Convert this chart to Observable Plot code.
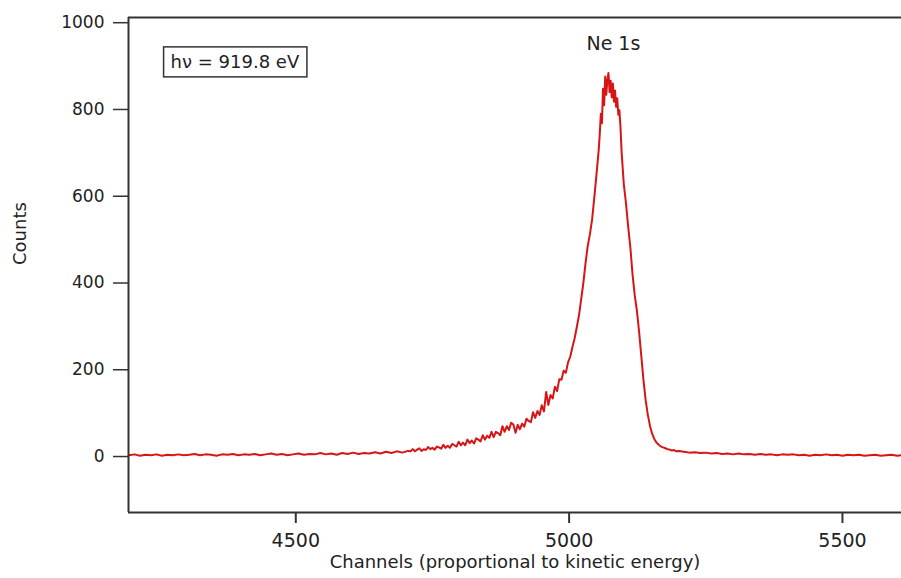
<!DOCTYPE html>
<html><head><meta charset="utf-8">
<script src="https://cdn.jsdelivr.net/npm/d3@7"></script>
<script src="https://cdn.jsdelivr.net/npm/@observablehq/plot@0.6"></script>
<style>body{margin:0;background:#fff}</style>
</head><body><div id="chart"></div>
<script>
const channels = [
4195,4205,4215,4225,4235,4245,4255,4265,4275,4285,4295,4305,4315,4325,4335,4345,4355,4365,4375,4385,
4395,4405,4415,4425,4435,4445,4455,4465,4475,4485,4495,4505,4515,4525,4535,4545,4555,4565,4575,4585,
4595,4605,4615,4625,4635,4645,4655,4665,4675,4685,4695,4705,
4710,4714,4718,4722,4726,4730,4734,4738,4742,4746,4750,4754,4758,4762,4766,4770,4774,4778,4782,4786,
4790,4794,4798,4802,4806,4810,4814,4818,4822,4826,4830,4834,4838,4842,4846,4850,4854,4858,4862,4866,
4870,4874,4878,4882,4886,4890,4894,4898,4902,4906,4910,4914,4918,4922,4926,4930,4934,4938,4942,4946,
4950,4954,4958,4962,4966,4970,4974,4978,4982,4986,4990,4994,4998,5002,5006,5010,5014,5018,5022,5026,
5030,5034,5038,5042,5046,5050,5054,
5056,5058,5060,5062,5064,5066,5068,5070,5072,5074,5076,5078,5080,5082,5084,5086,5088,5090,5092,5094,5096,
5100,5104,5108,5112,5116,5120,5124,5128,5132,5136,5140,5144,5148,5152,5156,5160,5164,5168,5172,5176,
5180,5184,5188,5192,5196,5200,
5210,5220,5230,5240,5250,5260,5270,5280,5290,5300,5310,5320,5330,5340,5350,5360,5370,5380,5390,5400,
5410,5420,5430,5440,5450,5460,5470,5480,5490,5500,5510,5520,5530,5540,5550,5560,5570,5580,5590,5600,5610
];
const counts = [
3,5,2,4,3,5,2,4,3,5,3,4,6,3,5,4,2,5,4,6,
3,5,4,6,3,5,7,4,6,3,5,7,4,6,5,8,5,7,4,8,
6,9,6,8,7,10,7,11,8,12,9,13,
12,17,12,16,19,13,17,15,22,17,20,16,23,21,18,27,20,25,20,29,
26,23,34,26,32,26,39,31,37,30,42,39,35,49,39,48,43,57,45,57,
54,49,70,57,70,61,78,74,55,73,63,76,69,87,82,79,102,89,105,96,
118,104,149,119,142,134,161,151,178,177,198,193,217,230,252,272,298,325,362,400,
445,485,512,546,596,650,705,
742,790,768,848,810,876,834,868,884,840,866,828,860,818,844,806,826,788,798,758,702,
628,584,530,482,420,372,336,288,232,176,130,96,70,52,40,32,27,23,21,19,
17,16,14,15,12,13,
11,9,10,8,9,7,8,6,7,5,7,5,6,4,6,4,5,3,5,4,
5,3,4,2,4,3,5,3,4,2,4,3,4,2,3,4,2,3,4,2,3
];
const xTicks = [4500, 5000, 5500];
const yTicks = [0, 200, 400, 600, 800, 1000];
const xDomain = [4194, 5608];
const yDomain = [-129, 1012];
const xLabel = "Channels (proportional to kinetic energy)";
const yLabel = "Counts";
const peakLabel = "Ne 1s";
const peakLabelPos = [5081, 950];
const boxLabel = "hν = 919.8 eV";
const boxLabelPos = [4271, 908];

const data = channels.map((c, i) => ({channel: c, count: counts[i]}));

const chart = Plot.plot({
  width: 901, height: 578,
  marginLeft: 128, marginRight: 0, marginTop: 17, marginBottom: 66,
  style: {fontFamily: "'DejaVu Sans', sans-serif", fontSize: "18px", color: "#222", background: "#fff"},
  x: {domain: xDomain},
  y: {domain: yDomain},
  marks: [
    Plot.line(data, {x: "channel", y: "count", stroke: "#d81515", strokeWidth: 2, clip: true}),
    Plot.ruleX([xDomain[0]], {stroke: "#333", strokeWidth: 2}),
    Plot.ruleY([yDomain[0], yDomain[1]], {stroke: "#333", strokeWidth: 2}),
    Plot.axisY(yTicks, {tickSize: 15, tickPadding: 9, label: null, fontSize: 17, stroke: "#333", strokeWidth: 1.5, tickFormat: d => String(d)}),
    Plot.axisX(xTicks, {tickSize: 11, tickPadding: 10, label: null, fontSize: 19, stroke: "#333", strokeWidth: 2, tickFormat: d => String(d)}),
    Plot.text([yLabel], {text: d => d, frameAnchor: "left", dx: -108, rotate: -90, fontSize: 18}),
    Plot.text([xLabel], {text: d => d, frameAnchor: "bottom", dy: 55, fontSize: 18}),
    Plot.text([peakLabel], {text: d => d, x: () => peakLabelPos[0], y: () => peakLabelPos[1], fontSize: 19}),
    Plot.text([boxLabel], {text: d => d, x: () => boxLabelPos[0], y: () => boxLabelPos[1], textAnchor: "start", fontSize: 18, className: "box-label"})
  ]
});
document.getElementById("chart").append(chart);

// frame box around the photon-energy annotation
const svgRect = chart.getBoundingClientRect();
const tnode = chart.querySelector(".box-label text");
if (tnode) {
  const r = tnode.getBoundingClientRect();
  const cy = r.top + r.height / 2 - svgRect.top;
  d3.select(chart).append("rect")
    .attr("x", r.left - svgRect.left - 7)
    .attr("y", cy - 15)
    .attr("width", r.width + 14)
    .attr("height", 30)
    .attr("fill", "none")
    .attr("stroke", "#333")
    .attr("stroke-width", 1.5);
}
</script>
</body></html>
